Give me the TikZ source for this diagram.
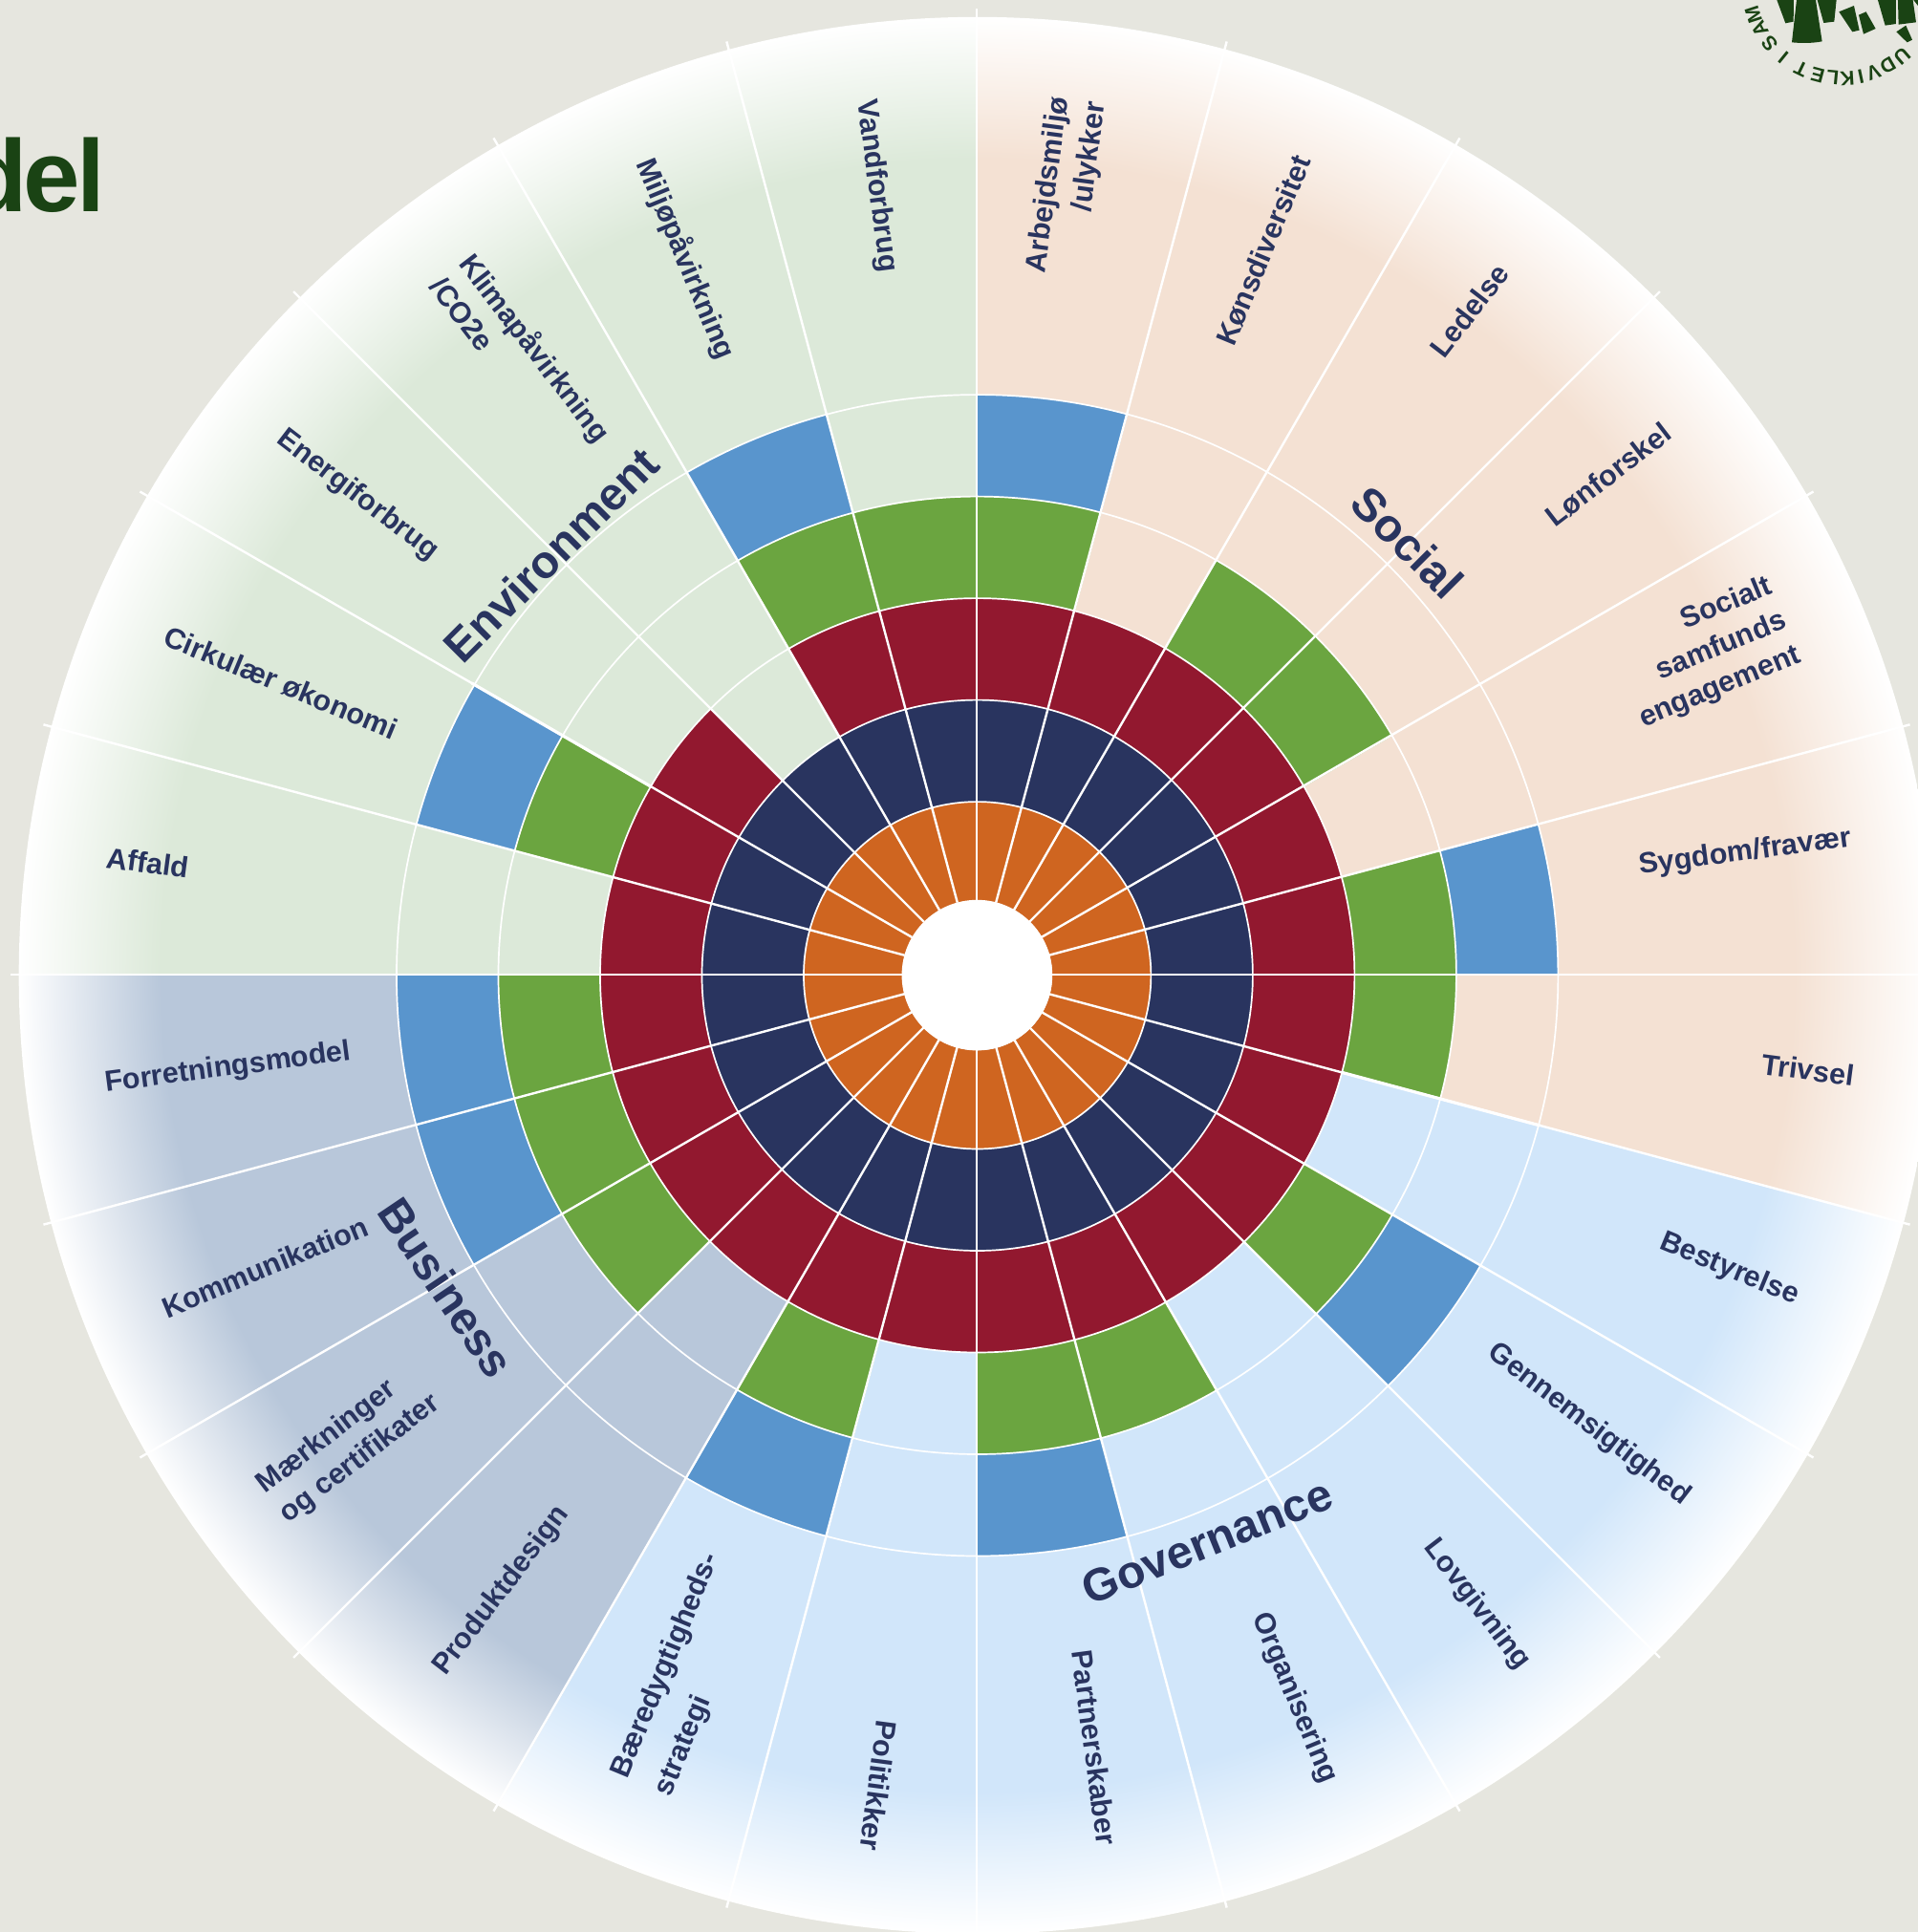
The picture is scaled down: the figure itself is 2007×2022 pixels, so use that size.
\documentclass[tikz,border=0pt]{standalone}
\usepackage{fontspec}
\usetikzlibrary{calc}
\setmainfont{Liberation Sans}
\newfontfamily\titlefont[LetterSpace=-4]{Liberation Sans}
\definecolor{bgc}{HTML}{E6E6DF}
\definecolor{envc}{HTML}{DCE9D9}
\definecolor{socc}{HTML}{F4E1D3}
\definecolor{govc}{HTML}{D1E6FA}
\definecolor{busc}{HTML}{B8C7DA}
\definecolor{ring1}{HTML}{CF6520}
\definecolor{ring2}{HTML}{29345F}
\definecolor{ring3}{HTML}{92182F}
\definecolor{ring4}{HTML}{6BA540}
\definecolor{ring5}{HTML}{5995CD}
\definecolor{logoc}{HTML}{1A4314}
\pgfdeclareradialshading{envsh}{\pgfpointorigin}{color(0bp)=(envc);color(21.3bp)=(envc);color(25bp)=(white);color(50bp)=(white)}
\pgfdeclareradialshading{socsh}{\pgfpointorigin}{color(0bp)=(socc);color(21.3bp)=(socc);color(25bp)=(white);color(50bp)=(white)}
\pgfdeclareradialshading{govsh}{\pgfpointorigin}{color(0bp)=(govc);color(21.3bp)=(govc);color(25bp)=(white);color(50bp)=(white)}
\pgfdeclareradialshading{bussh}{\pgfpointorigin}{color(0bp)=(busc);color(21.3bp)=(busc);color(25bp)=(white);color(50bp)=(white)}
\tikzset{
  lbl/.style={text=ring2,font=\fontsize{30.5}{39}\selectfont\bfseries,inner sep=0pt},
  grp/.style={text=ring2,font=\fontsize{48}{54}\selectfont\bfseries,inner sep=0pt},
  ringline/.style={draw=white,line width=1.7pt},
  spoke/.style={draw=white,line width=2.4pt},
  thickspoke/.style={draw=white,line width=3.2pt},
  logoletter/.style={text=logoc,font=\fontsize{21}{23}\selectfont\bfseries,inner sep=0pt}
}
\newcommand{\lab}[6]{\node[lbl,rotate=#3,align=#4] (#5) at ({#1*1.2898-1022},{1020-#2*1.2898}) {#6};}
\newcommand{\grouplab}[5]{\node[grp,rotate=#3] (#4) at ({#1*1.2898-1022},{1020-#2*1.2898}) {#5};}
\newcommand{\fan}[3]{\begin{scope}\clip (0,0) -- (#1:1500pt) arc[start angle=#1,end angle=#2,radius=1500pt] -- cycle;
  \shade[shading=#3] (0,0) circle (1003pt);\end{scope}}
\begin{document}
\begin{tikzpicture}[x=1pt,y=1pt]
\useasboundingbox (-1022,-1002) rectangle (985,1020);
\fill[bgc] (-1022,-1002) rectangle (985,1020);
\clip (-1022,-1002) rectangle (985,1020);
\begin{scope}[shift={(0.7,-0.8)}]
% coloured fans
\fan{-15}{90}{socsh}
\fan{-120}{-15}{govsh}
\fan{-180}{-120}{bussh}
\fan{90}{180}{envsh}
% rings per sector: start angle / number of filled rings
\foreach \a/\n in {75/5,60/3,45/4,30/4,15/3,0/5,-15/4,-30/3,-45/5,-60/3,-75/4,-90/5,-105/3,-120/5,-135/3,-150/4,-165/5,-180/5,165/3,150/5,135/3,120/2,105/5,90/4}{
  \pgfmathsetmacro{\b}{\a+15}
  \foreach \k in {1,...,\n}{
    \pgfmathsetmacro{\ri}{\k==1?78.5:75.2+106.5*(\k-1)}
    \pgfmathsetmacro{\ro}{75.2+106.5*\k}
    \fill[ring\k] (\a:\ri pt) arc[start angle=\a,end angle=\b,radius=\ri pt] -- (\b:\ro pt) arc[start angle=\b,end angle=\a,radius=\ro pt] -- cycle;
  }
}
\foreach \r in {181.7,288.2,394.7,501.2,607.7}{\draw[ringline] (0,0) circle (\r pt);}
\end{scope}
\foreach \a in {0,15,...,345}{\draw[spoke] (\a:78pt) -- (\a:1011pt);}
\foreach \a in {-15,150}{\draw[thickspoke] (\a:395pt) -- (\a:610pt);}
\fill[white] (0.4,-0.6) circle (78.8pt);
% sector labels
\lab{711}{151}{-82.5}{center}{vand}{Vandforbrug}
\lab{556}{210}{-67.5}{center}{milj}{Miljøpåvirkning}
\lab{423}{291}{-52.5}{left}{klima}{Klimapåvirkning\\/CO2e}
\lab{290}{402}{-37.5}{center}{energi}{Energiforbrug}
\lab{228}{554}{-22.5}{center}{cirk}{Cirkulær økonomi}
\lab{120}{700}{-7.5}{center}{affald}{Affald}
\lab{185}{867}{7.5}{center}{forr}{Forretningsmodel}
\lab{215}{1028}{22.5}{center}{komm}{Kommunikation}
\lab{283}{1172}{37.5}{left}{maerk}{Mærkninger\\og certifikater}
\lab{407}{1291}{52.5}{center}{prod}{Produktdesign}
\lab{558}{1359}{67.5}{left}{baere}{Bæredygtigheds-\\[10pt]strategi}
\lab{713}{1449}{-97.5}{center}{polit}{Politikker}
\lab{888}{1418}{-82.5}{center}{partner}{Partnerskaber}
\lab{1050}{1378}{-67.5}{center}{org}{Organisering}
\lab{1198}{1302}{-52.5}{center}{lov}{Lovgivning}
\lab{1289}{1156}{-37.5}{center}{genn}{Gennemsigtighed}
\lab{1403}{1030}{-22.5}{center}{best}{Bestyrelse}
\lab{1467}{868}{-7.5}{center}{triv}{Trivsel}
\lab{1416}{692}{7.5}{center}{sygd}{Sygdom/fravær}
\lab{1384}{530}{22.5}{right}{socl}{Socialt\\samfunds\\engagement}
\lab{1305}{385}{37.5}{center}{lonf}{Lønforskel}
\lab{1192}{252}{52.5}{center}{ledl}{Ledelse}
\lab{1025}{203}{67.5}{center}{kons}{Kønsdiversitet}
\lab{866}{152}{82.5}{right}{arb}{Arbejdsmiljø\\/ulykker}
% group labels
\grouplab{447}{450}{45}{genv}{Environment}
\grouplab{1142}{440}{-45}{gsoc}{Social}
\grouplab{979.5}{1251}{22}{ggov}{Governance}
\grouplab{362}{1045}{-56}{gbus}{Business}
% title fragment
\node[anchor=base east,text=logoc,inner sep=0pt,font=\titlefont\fontsize{107}{110}\selectfont\bfseries] (title) at (-1022+110,1020-222) {del};
% logo
\begin{scope}[shift={(-1022+1780,1020)},x=0.3333pt,y=-0.3333pt,logoc]
\fill (238,0)--(291,0)--(290,68)--(265,73)--cycle;
\fill (300,0)--(360,0)--(380,130) .. controls (350,136) and (315,136) .. (285,133)--cycle;
\fill (365,0)--(425,0)--(418,68)--(385,72)--cycle;
\fill (433,37)--(480,18)--(497,95)--(475,100)--cycle;
\fill (495,47)--(518,37)--(548,90)--(510,107)--cycle;
\fill (555,0)--(612,0)--(612,75)--(578,80)--cycle;
\fill (618,0)--(665,0)--(675,70)--(620,77)--cycle;
\fill (667,0)--(681,0)--(681,18)--cycle;
\fill (613,100)--(643,80)--(663,125)--(647,133)--cycle;
\end{scope}
\coordinate (logoc) at (-1022+1927,1020+15);
\foreach \ch/\th/\nm in {U/-49.4/l1,D/-60/l2,V/-69.8/l3,I/-78/l4,K/-86.5/l5,L/-95.5/l6,E/-105/l7,T/-115.8/l8,I/-129/l9,S/-141/l10,A/-152/l11,M/-162/l12}{
  \pgfmathsetmacro{\rot}{\th-90}
  \node[logoletter,rotate=\rot] (\nm) at ($(logoc)+(\th:97pt)$) {\ch};
}
\end{tikzpicture}
\end{document}
